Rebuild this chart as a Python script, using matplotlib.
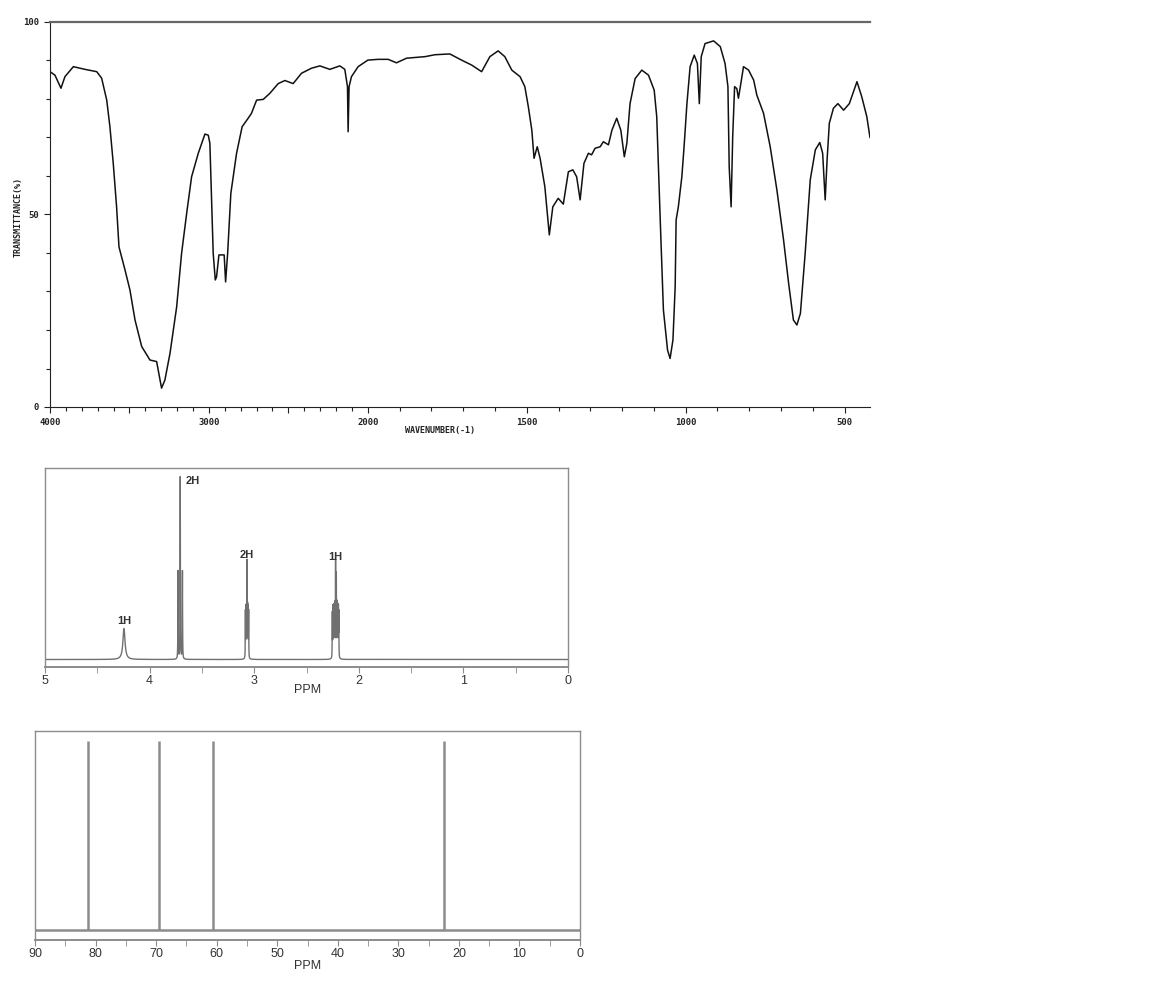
import numpy as np
import matplotlib.pyplot as plt
from matplotlib.ticker import FixedLocator, MultipleLocator

# IR spectrum (wavenumber in cm-1, transmittance in %)
ir_wavenumber = [4000, 3969, 3931, 3906, 3853, 3780, 3706, 3675, 3643, 3623, 3602, 3581,
                 3566, 3528, 3497, 3465, 3423, 3371, 3329, 3319, 3298, 3277, 3245, 3203,
                 3172, 3140, 3109, 3067, 3025, 3004, 2994, 2973, 2960, 2952, 2937, 2904,
                 2895, 2882, 2862, 2826, 2791, 2753, 2732, 2700, 2658, 2616, 2564, 2522,
                 2470, 2417, 2354, 2302, 2239, 2176, 2145, 2128, 2124, 2118, 2103, 2061,
                 2000, 1968, 1936, 1910, 1878, 1820, 1789, 1742, 1705, 1673, 1642, 1616,
                 1590, 1569, 1547, 1521, 1506, 1495, 1484, 1477, 1467, 1458, 1443, 1429,
                 1418, 1401, 1385, 1369, 1355, 1343, 1332, 1320, 1306, 1296, 1285, 1269,
                 1259, 1243, 1232, 1217, 1204, 1193, 1185, 1175, 1159, 1138, 1117, 1099,
                 1091, 1080, 1070, 1057, 1049, 1040, 1033, 1030, 1023, 1012, 1005, 996,
                 986, 973, 963, 957, 951, 939, 912, 891, 876, 867, 863, 857,
                 852, 846, 839, 834, 828, 818, 802, 786, 776, 755, 734, 713,
                 692, 676, 661, 650, 639, 624, 608, 592, 578, 569, 561, 555,
                 548, 535, 521, 503, 485, 461, 446, 430, 422, 420]
ir_transmittance = [87.1, 86.2, 82.8, 85.8, 88.4, 87.7, 87.1, 85.4, 79.7, 72.8, 63.3, 52.0,
                    41.6, 35.6, 30.4, 22.6, 15.7, 12.2, 11.8, 9.6, 4.9, 7.0, 13.9, 26.0,
                    39.9, 50.3, 59.8, 65.9, 70.9, 70.6, 68.5, 39.9, 33.0, 33.8, 39.5, 39.5,
                    32.5, 40.0, 55.5, 65.9, 72.8, 75.0, 76.3, 79.7, 79.9, 81.5, 84.0, 84.8,
                    84.0, 86.7, 88.0, 88.6, 87.7, 88.6, 87.7, 83.2, 71.5, 83.2, 85.8, 88.4,
                    90.1, 90.3, 90.3, 89.4, 90.6, 91.0, 91.5, 91.7, 90.1, 88.8, 87.1, 91.0,
                    92.5, 91.0, 87.5, 85.8, 83.2, 78.0, 71.9, 64.6, 67.6, 64.6, 57.2, 44.7,
                    52.0, 54.2, 52.7, 61.1, 61.6, 59.8, 53.8, 63.3, 65.9, 65.5, 67.2, 67.6,
                    68.9, 68.1, 71.9, 75.0, 71.9, 65.0, 68.5, 78.8, 85.3, 87.5, 86.2, 82.3,
                    75.4, 48.6, 25.2, 14.8, 12.6, 17.4, 31.2, 48.6, 52.0, 59.8, 67.6, 78.8,
                    88.4, 91.4, 89.2, 78.8, 91.0, 94.4, 95.1, 93.6, 89.2, 83.2, 62.4, 52.0,
                    70.2, 83.2, 82.7, 80.2, 83.2, 88.4, 87.5, 84.9, 81.0, 76.3, 67.6, 56.4,
                    43.4, 32.1, 22.6, 21.3, 24.3, 39.9, 59.0, 66.8, 68.7, 65.9, 53.8, 64.2,
                    73.7, 77.6, 78.8, 77.1, 78.8, 84.5, 80.6, 75.4, 71.1, 70.0]
ir_tick_values = [4000, 3500, 3000, 2500, 2000, 1500, 1000, 500]
ir_tick_labels = ['4000', '', '3000', '', '2000', '1500', '1000', '500']

# 1H NMR peak list (ppm, relative height, half width)
h_shift = [4.245, 3.728, 3.707, 3.686,
           3.084, 3.079, 3.074, 3.068, 3.063, 3.058, 3.053,
           2.253, 2.248, 2.243, 2.238, 2.233, 2.228, 2.222, 2.215, 2.210,
           2.205, 2.200, 2.195, 2.191]
h_height = [31, 88, 182, 88,
            46, 48, 48, 94, 48, 48, 46,
            44, 48, 48, 48, 48, 50, 94, 80, 50,
            48, 48, 48, 44]
h_width = [0.012, 0.0015, 0.0015, 0.0015,
           0.0012, 0.0012, 0.0012, 0.0012, 0.0012, 0.0012, 0.0012,
           0.0012, 0.0012, 0.0012, 0.0012, 0.0012, 0.0012, 0.0012, 0.0012, 0.0012,
           0.0012, 0.0012, 0.0012, 0.0012]
h_labels = ['1H', '2H', '2H', '1H']
h_label_ppm = [4.24, 3.66, 3.068, 2.222]
h_label_y = [39, 179, 104, 103]

# 13C NMR lines
c_shift = [81.2, 69.6, 60.6, 22.4]
c_height = [189, 189, 189, 189]

grey = '#8c8c8c'
dark = '#333333'

fig = plt.figure(figsize=(11.55, 9.9), dpi=100)

# ---------------- IR ----------------
# the axis is compressed by half above 2000 cm-1
def fwd(w):
    w = np.asarray(w, dtype=float)
    return np.where(w >= 2000, w, 2 * w - 2000)

def inv(p):
    p = np.asarray(p, dtype=float)
    return np.where(p >= 2000, p, (p + 2000) / 2)

ax1 = fig.add_axes([50 / 1155, 1 - 407 / 990, 820 / 1155, 385 / 990])
ax1.plot(ir_wavenumber, ir_transmittance, color='#111111', lw=1.1)
ax1.set_xscale('function', functions=(fwd, inv))
ax1.set_xlim(4000, 420)
ax1.set_ylim(0, 100)
ax1.spines['right'].set_visible(False)
ax1.spines['top'].set_color('#666666')
ax1.spines['top'].set_linewidth(1.6)
ax1.spines['left'].set_color('#222222')
ax1.spines['bottom'].set_color('#222222')
ax1.xaxis.set_major_locator(FixedLocator(ir_tick_values))
ax1.set_xticklabels(ir_tick_labels)
ax1.xaxis.set_minor_locator(FixedLocator(list(range(500, 4000, 100))))
ax1.yaxis.set_major_locator(FixedLocator([0, 50, 100]))
ax1.set_yticklabels(['0', '50', '100'])
ax1.yaxis.set_minor_locator(MultipleLocator(10))
ax1.tick_params(axis='both', which='major', direction='out', length=4, width=0.8,
                color='#222222', labelsize=6.5, labelcolor='#222222', pad=4)
ax1.tick_params(axis='both', which='minor', direction='out', length=3, width=0.8,
                color='#222222')
for lab in ax1.get_xticklabels() + ax1.get_yticklabels():
    lab.set_family('DejaVu Sans Mono')
    lab.set_fontweight('bold')
fig.text(18 / 1155, 1 - 217 / 990, 'TRANSMITTANCE(%)', rotation=90, ha='center', va='center',
         fontsize=6, family='DejaVu Sans Mono', fontweight='bold', color='#222222')
fig.text(440 / 1155, 1 - 431 / 990, 'WAVENUMBER(-1)', ha='center', va='center',
         fontsize=6, family='DejaVu Sans Mono', fontweight='bold', color='#222222')

# ---------------- 1H NMR ----------------
ax2 = fig.add_axes([45 / 1155, 1 - 667 / 990, 523 / 1155, 199.5 / 990])
ppm = np.linspace(0, 5, 50001)
spec = np.zeros_like(ppm)
for s, h, w in zip(h_shift, h_height, h_width):
    spec += h / (1 + ((ppm - s) / w) ** 2)
ax2.plot(ppm, spec, color='#707070', lw=1.0)
ax2.set_xlim(5, 0)
ax2.set_ylim(-7.5, 192)
for s in ax2.spines.values():
    s.set_color(grey)
    s.set_linewidth(1.0)
ax2.spines['bottom'].set_linewidth(1.4)
ax2.set_yticks([])
ax2.xaxis.set_major_locator(MultipleLocator(1))
ax2.xaxis.set_minor_locator(MultipleLocator(0.5))
ax2.tick_params(axis='x', which='both', direction='out', length=4, color=grey,
                labelsize=9, labelcolor=dark, pad=2)
for lab in ax2.get_xticklabels():
    lab.set_family('Liberation Sans')
for txt, x, y in zip(h_labels, h_label_ppm, h_label_y):
    ha = 'left' if txt == '2H' and x > 3.5 else 'center'
    ax2.text(x, y, txt, ha=ha, va='center', fontsize=8, family='Liberation Sans',
             fontweight='bold', color=dark)
fig.text(308 / 1155, 1 - 690 / 990, 'PPM', ha='center', va='center', fontsize=9,
         family='Liberation Sans', color=dark)

# ---------------- 13C NMR ----------------
ax3 = fig.add_axes([35 / 1155, 1 - 940 / 990, 545 / 1155, 209 / 990])
ax3.vlines(c_shift, 0, c_height, color=grey, lw=1.8)
ax3.axhline(0, color=grey, lw=1.8)
ax3.set_xlim(90, 0)
ax3.set_ylim(-10, 199)
for s in ax3.spines.values():
    s.set_color(grey)
    s.set_linewidth(1.0)
ax3.spines['bottom'].set_linewidth(1.4)
ax3.set_yticks([])
ax3.xaxis.set_major_locator(MultipleLocator(10))
ax3.xaxis.set_minor_locator(MultipleLocator(5))
ax3.tick_params(axis='x', which='both', direction='out', length=4, color=grey,
                labelsize=9, labelcolor=dark, pad=2)
for lab in ax3.get_xticklabels():
    lab.set_family('Liberation Sans')
fig.text(308 / 1155, 1 - 966 / 990, 'PPM', ha='center', va='center', fontsize=9,
         family='Liberation Sans', color=dark)

fig.savefig('out.png', dpi=100)
